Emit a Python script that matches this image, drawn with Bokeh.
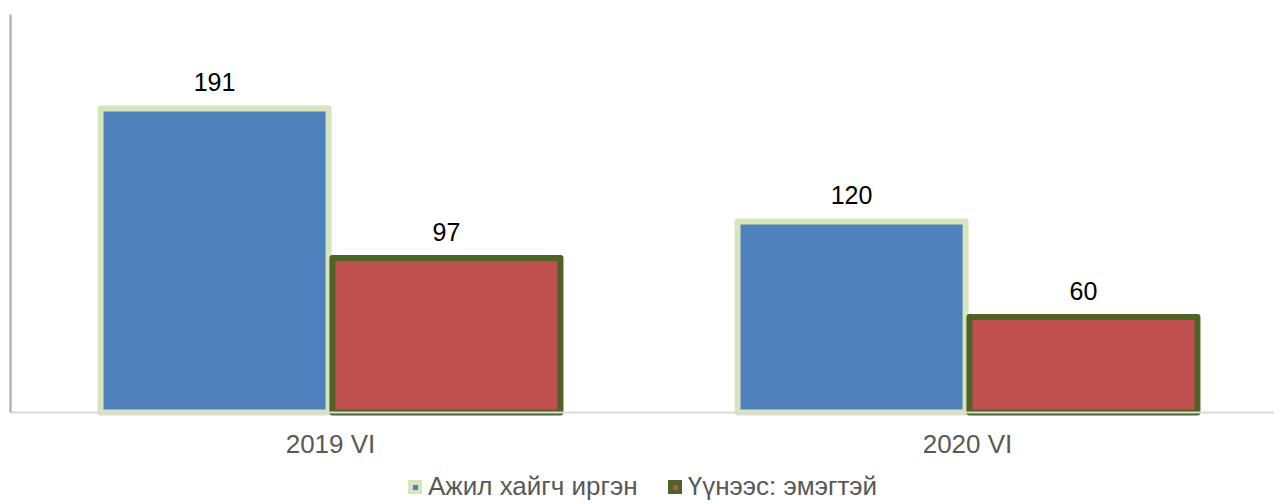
from bokeh.plotting import figure
from bokeh.models import ColumnDataSource, Range1d, FixedTicker, LabelSet, Legend, LegendItem
from bokeh.transform import dodge
from bokeh.core.properties import value
from bokeh.embed import file_html
from bokeh.resources import INLINE

categories = ["2019 VI", "2020 VI"]
series_names = ["Ажил хайгч иргэн", "Үүнээс: эмэгтэй"]
job_seekers = [191, 120]
women = [97, 60]

FONT = "Liberation Sans"
FRAME_W = 1264
PLOT_PX = 398      # pixel height of the 0..250 value span
BELOW_PX = 92      # frame space below the zero line (axis labels + legend)
Y_MAX = 250
y_lo = -Y_MAX * BELOW_PX / PLOT_PX

idx = list(range(len(categories)))
src = ColumnDataSource(dict(
    x=idx,
    cat=categories,
    zero=[0] * len(categories),
    a=job_seekers,
    b=women,
    a_lbl=[str(v) for v in job_seekers],
    b_lbl=[str(v) for v in women],
))

cat_px = 637.0
start = -320.0 / cat_px
end = start + FRAME_W / cat_px

p = figure(frame_width=FRAME_W, frame_height=PLOT_PX + BELOW_PX,
           output_backend="svg", toolbar_location=None,
           x_range=Range1d(start, end), y_range=Range1d(y_lo, Y_MAX),
           min_border_left=10, min_border_right=0, min_border_top=14, min_border_bottom=0)
p.outline_line_color = None
p.xgrid.visible = False
p.ygrid.visible = False

off = 0.182
bw = 0.358
r1 = p.vbar(x=dodge("x", -off), top="a", width=bw, source=src,
            fill_color="#4F81BD", line_color="#D7E4BD", line_width=6, line_join="round")
r2 = p.vbar(x=dodge("x", off), top="b", width=bw, source=src,
            fill_color="#C0504D", line_color="#4F6228", line_width=6, line_join="round")

for col, lbl, o in (("a", "a_lbl", -off), ("b", "b_lbl", off)):
    p.add_layout(LabelSet(x=dodge("x", o), y=col, text=lbl, source=src,
                          text_align="center", text_baseline="alphabetic", y_offset=17,
                          text_font=value(FONT), text_font_size="25px", text_color="#000000"))

# category (tick) labels under the baseline
p.add_layout(LabelSet(x="x", y="zero", text="cat", source=src,
                      text_align="center", text_baseline="middle", y_offset=-31,
                      text_font=value(FONT), text_font_size="26px", text_color="#595959"))

xa = p.xaxis[0]
xa.fixed_location = 0
xa.ticker = FixedTicker(ticks=[])
xa.major_tick_line_color = None
xa.minor_tick_line_color = None
xa.major_tick_out = 0
xa.major_tick_in = 0
xa.major_label_standoff = 0
xa.axis_line_color = "#D9D9D9"
xa.axis_line_width = 2

ya = p.yaxis[0]
ya.ticker = FixedTicker(ticks=[])
ya.bounds = (0, Y_MAX)
ya.major_tick_line_color = None
ya.minor_tick_line_color = None
ya.major_tick_out = 0
ya.major_tick_in = 0
ya.major_label_standoff = 0
ya.axis_line_color = "#A6A6A6"
ya.axis_line_width = 2

legend = Legend(items=[LegendItem(label=series_names[0], renderers=[r1]),
                       LegendItem(label=series_names[1], renderers=[r2])],
                orientation="horizontal", location=(398, 2),
                label_text_font=FONT, label_text_font_size="26px", label_text_color="#595959",
                glyph_width=14, glyph_height=14, label_standoff=6, spacing=30,
                padding=0, margin=0, border_line_color=None, background_fill_alpha=0)
p.add_layout(legend, "center")

open("out.html", "w").write(file_html(p, INLINE))
